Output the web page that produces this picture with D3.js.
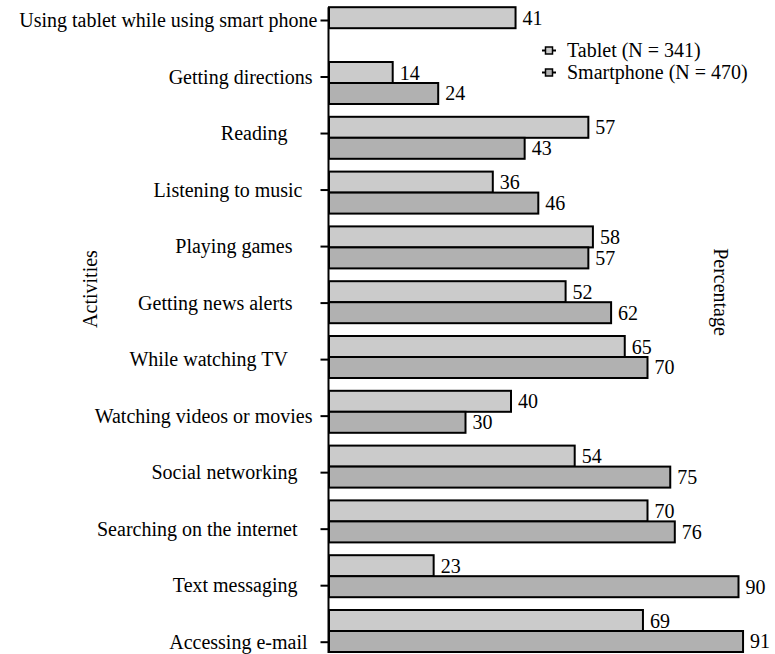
<!DOCTYPE html>
<html>
<head>
<meta charset="utf-8">
<script src="https://cdn.jsdelivr.net/npm/d3@7"></script>
<style>
  html, body { margin: 0; padding: 0; background: #fff; }
  svg { display: block; }
  text { font-family: "Liberation Serif", "Times New Roman", serif; fill: #000; }
  .cat text { white-space: pre; }
</style>
</head>
<body>
<svg id="chart" width="775" height="654"></svg>
<script>
// ---- data ----
const categories = [
  "Using tablet while using smart phone",
  "Getting directions ",
  "Reading      ",
  "Listening to music   ",
  "Playing games     ",
  "Getting news alerts     ",
  "While watching TV      ",
  "Watching videos or movies ",
  "Social networking    ",
  "Searching on the internet    ",
  "Text messaging    ",
  "Accessing e-mail  "
];
const tabletValues     = [41, 14, 57, 36, 58, 52, 65, 40, 54, 70, 23, 69];
const smartphoneValues = [null, 24, 43, 46, 57, 62, 70, 30, 75, 76, 90, 91];
const seriesNames = ["Tablet (N = 341)", "Smartphone (N = 470)"];
const seriesColors = ["#cbcbcb", "#b1b1b1"];
const xAxisTitle = "Percentage";
const yAxisTitle = "Activities";

// ---- layout ----
const svg = d3.select("#chart");
const axisX = 329;

const x = d3.scaleLinear().domain([0, 100]).range([axisX, axisX + 455]);

const yBand = d3.scaleBand()
  .domain(categories)
  .range([0.8, 658.4])
  .paddingInner(0.2336)
  .paddingOuter(0.1168);

const ySub = d3.scaleBand()
  .domain([0, 1])
  .range([0, yBand.bandwidth()]);

const yTick = d3.scalePoint()
  .domain(categories)
  .range([20, 641.7]);

const series = [tabletValues, smartphoneValues];

// bars
series.forEach((vals, si) => {
  const g = svg.append("g");
  const data = categories.map((c, i) => ({ c, v: vals[i] })).filter(d => d.v != null);
  g.selectAll("rect").data(data).enter().append("rect")
    .attr("x", x(0))
    .attr("y", d => yBand(d.c) + ySub(si))
    .attr("width", d => x(d.v) - x(0))
    .attr("height", ySub.bandwidth())
    .attr("fill", seriesColors[si])
    .attr("stroke", "#000")
    .attr("stroke-width", 2);
  g.selectAll("text").data(data).enter().append("text")
    .attr("x", d => x(d.v) + 7)
    .attr("y", d => yBand(d.c) + ySub(si) + ySub.bandwidth() / 2)
    .attr("dy", "0.35em")
    .attr("font-size", 20)
    .text(d => d.v);
});

// y axis (category ticks and labels)
const yAxis = d3.axisLeft(yTick).tickSize(8).tickPadding(3);
const ag = svg.append("g")
  .attr("class", "cat")
  .attr("transform", `translate(${axisX - 0.5},0)`)
  .call(yAxis);
ag.select(".domain").remove();
ag.selectAll(".tick line").attr("stroke", "#000").attr("stroke-width", 2);
ag.selectAll(".tick text")
  .attr("font-size", 20)
  .attr("font-family", "'Liberation Serif', 'Times New Roman', serif")
  .attr("fill", "#000")
  .attr("dy", "0.33em");

// axis line
const cats = yBand.domain();
svg.append("line")
  .attr("x1", axisX - 0.5).attr("x2", axisX - 0.5)
  .attr("y1", yBand(cats[0]))
  .attr("y2", yBand(cats[cats.length - 1]) + yBand.bandwidth() + 1)
  .attr("stroke", "#000").attr("stroke-width", 2);

// axis titles
svg.append("text")
  .attr("transform", "translate(90,289) rotate(-90)")
  .attr("text-anchor", "middle")
  .attr("dy", "0.35em")
  .attr("font-size", 20)
  .text(yAxisTitle);

svg.append("text")
  .attr("transform", "translate(721,292) rotate(90)")
  .attr("text-anchor", "middle")
  .attr("dy", "0.35em")
  .attr("font-size", 20)
  .text(xAxisTitle);

// legend
const legend = svg.append("g").attr("transform", "translate(542,50.5)");
seriesNames.forEach((name, i) => {
  const row = legend.append("g").attr("transform", `translate(0,${i * 22})`);
  row.append("line").attr("x1", 0).attr("x2", 14).attr("y1", 0).attr("y2", 0)
    .attr("stroke", "#000").attr("stroke-width", 2);
  row.append("rect").attr("x", 3.5).attr("y", -3.5).attr("width", 7).attr("height", 7)
    .attr("fill", seriesColors[i]).attr("stroke", "#000").attr("stroke-width", 1.5);
  row.append("text").attr("x", 25).attr("y", 0).attr("dy", "0.33em")
    .attr("font-size", 20).text(name);
});
</script>
</body>
</html>
